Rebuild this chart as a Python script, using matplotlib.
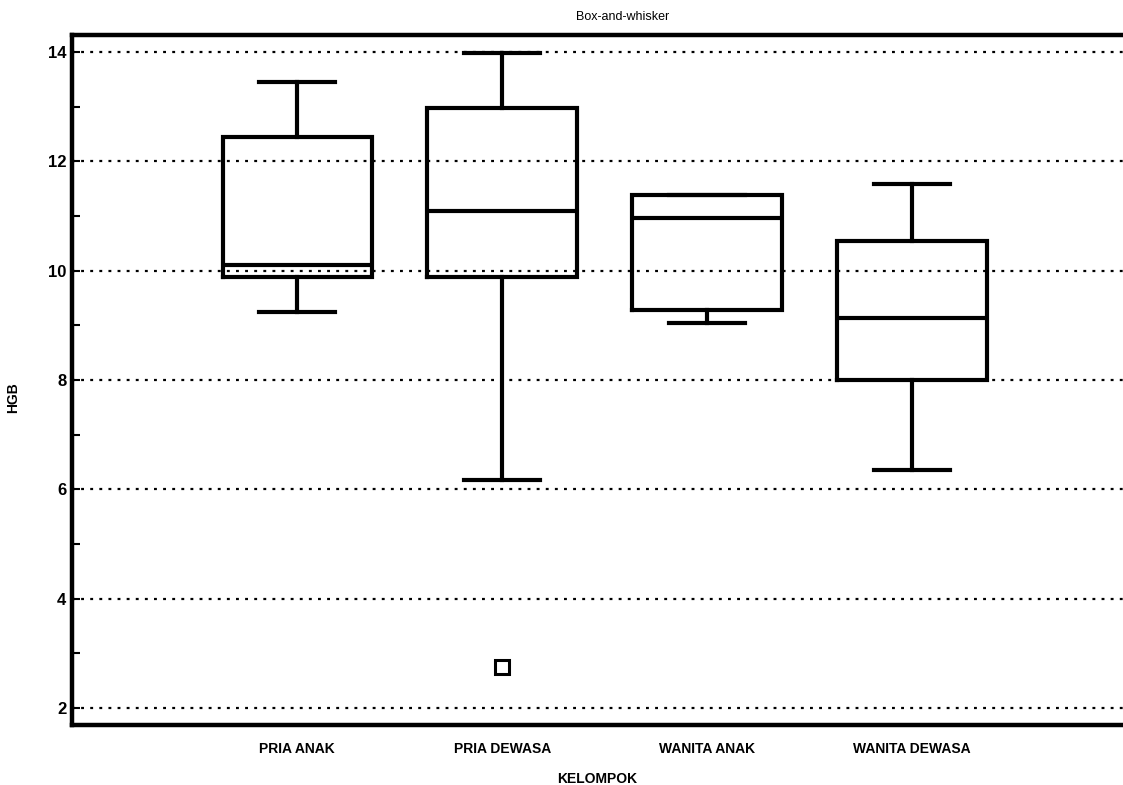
import matplotlib.pyplot as plt
from matplotlib.ticker import MultipleLocator

# HGB per kelompok: five-number summaries + outliers
groups = ['PRIA ANAK', 'PRIA DEWASA', 'WANITA ANAK', 'WANITA DEWASA']
whislo = [9.25, 6.17, 9.05, 6.36]
q1 = [9.89, 9.89, 9.28, 8.00]
med = [10.11, 11.09, 10.97, 9.14]
q3 = [12.45, 12.98, 11.39, 10.54]
whishi = [13.45, 13.98, 11.39, 11.59]
fliers = [[], [2.76], [], []]

plt.rcParams['font.family'] = ['Liberation Sans', 'DejaVu Sans']
plt.rcParams['font.weight'] = 'bold'

stats = []
for i, name in enumerate(groups):
    stats.append(dict(label=name, whislo=whislo[i], q1=q1[i], med=med[i],
                      q3=q3[i], whishi=whishi[i], fliers=fliers[i]))

fig = plt.figure(figsize=(11.23, 7.85), dpi=100)
ax = fig.add_axes([0.0641, 0.0764, 0.9359, 0.879])

lw = 3.0
pos = [1, 2, 3, 4]
ax.bxp(stats, positions=pos, widths=0.73, capwidths=0.37,
       boxprops=dict(color='black', linewidth=lw, solid_joinstyle='miter'),
       medianprops=dict(color='black', linewidth=lw),
       whiskerprops=dict(color='black', linewidth=lw),
       capprops=dict(color='black', linewidth=lw),
       flierprops=dict(marker='s', markersize=10, markerfacecolor='white',
                       markeredgecolor='black', markeredgewidth=2.2))

ax.set_xlim(-0.1, 5.03)
ax.set_ylim(1.69, 14.31)

# dotted horizontal grid at the labelled values
ax.yaxis.set_major_locator(MultipleLocator(2))
ax.yaxis.set_minor_locator(MultipleLocator(1))
ax.grid(axis='y', which='major', color='black', linestyle=(0, (1.3, 2.8)),
        linewidth=1.6)
ax.set_axisbelow(True)

ax.tick_params(axis='y', which='major', direction='in', length=6, width=1.5,
               labelsize=12, pad=4)
ax.tick_params(axis='y', which='minor', direction='in', length=6, width=1.5)
ax.tick_params(axis='x', length=0, labelsize=10, pad=12)
ax.set_xticks(pos)
ax.set_xticklabels(groups)

for s in ['left', 'top', 'bottom']:
    ax.spines[s].set_linewidth(3.2)
ax.spines['right'].set_visible(False)

ax.set_ylabel('HGB', fontsize=10, fontweight='bold')
ax.yaxis.set_label_coords(-0.049, 0.474)
ax.set_xlabel('KELOMPOK', fontsize=10, fontweight='bold', labelpad=12)
fig.text(0.554, 0.978, 'Box-and-whisker', ha='center', va='center',
         fontsize=9, fontweight='normal')

fig.savefig('out.png', dpi=100)
